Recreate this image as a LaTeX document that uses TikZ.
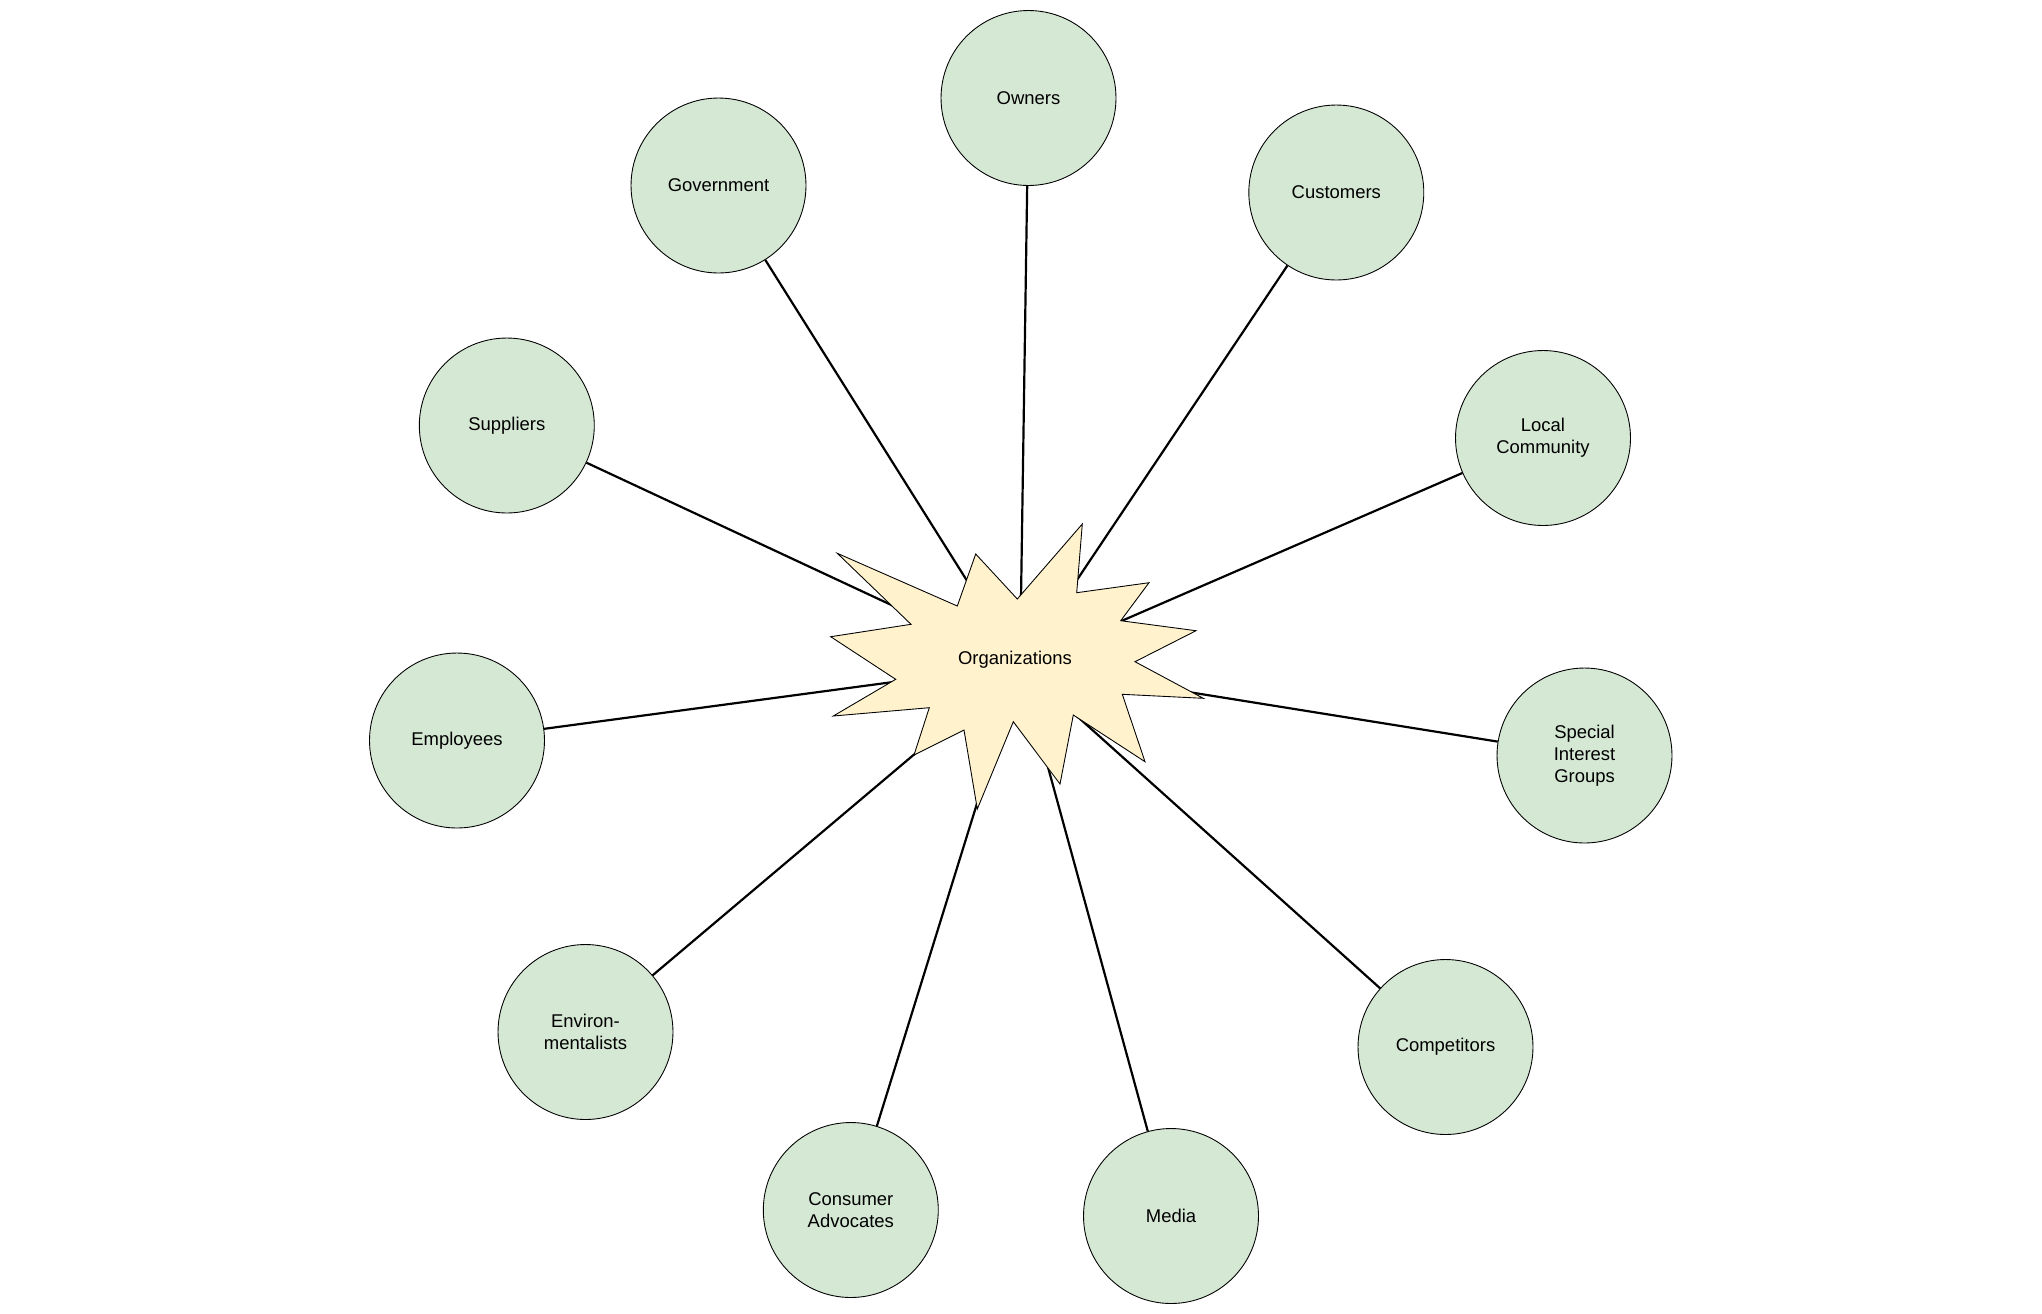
\documentclass[tikz,border=0pt]{standalone}
\usepackage{fontspec}
\setmainfont{Liberation Sans}
\definecolor{groupgreen}{HTML}{D5E8D4}
\definecolor{orgyellow}{HTML}{FFF2CC}

\begin{document}
\begin{tikzpicture}[x=0.02cm, y=-0.02cm,
		group/.style={circle, draw=black, line width=0.5pt, fill=groupgreen, minimum size=3.5cm, inner sep=0pt, align=center, font=\fontsize{10.5}{12.5}\selectfont},
		link/.style={line width=1.25pt}]
		%%%%% START %%%%%
		
		\useasboundingbox (0, 0) rectangle (2042, 1313);
		
		\node[group] (owners) at (1028.5, 98) {Owners};
		\node[group] (government) at (718.5, 185.5) {Government};
		\node[group] (customers) at (1336.3, 192.5) {Customers};
		\node[group] (suppliers) at (506.8, 425.5) {Suppliers};
		\node[group] (community) at (1543, 438) {Local\\Community};
		\node[group] (employees) at (457, 740.5) {Employees};
		\node[group] (interest) at (1584.5, 755.5) {Special\\Interest\\Groups};
		\node[group] (environ) at (585.5, 1032) {Environ-\\mentalists};
		\node[group] (competitors) at (1445.5, 1047) {Competitors};
		\node[group] (consumer) at (850.8, 1210) {Consumer\\Advocates};
		\node[group] (media) at (1171, 1216) {Media};
		
		\coordinate (hub) at (1020, 665);
		
		\draw[link] (owners) -- (hub);
		\draw[link] (government) -- (hub);
		\draw[link] (customers) -- (hub);
		\draw[link] (suppliers) -- (hub);
		\draw[link] (community) -- (hub);
		\draw[link] (employees) -- (hub);
		\draw[link] (interest) -- (hub);
		\draw[link] (environ) -- (hub);
		\draw[link] (competitors) -- (hub);
		\draw[link] (consumer) -- (hub);
		\draw[link] (media) -- (hub);
		
		\draw[fill=orgyellow, line width=0.5pt] (837.3, 553.3) -- (957.3, 606) -- (975.7, 554) -- (1017.3, 599)
			-- (1082.3, 524) -- (1076.7, 592.7) -- (1149, 582.7) -- (1120.7, 620.7)
			-- (1196, 630.7) -- (1135, 661.7) -- (1203.3, 698.3) -- (1122.3, 694.3)
			-- (1145, 761.7) -- (1073.3, 715) -- (1060, 784) -- (1013.3, 721.7)
			-- (977.3, 809) -- (964, 730) -- (914, 755) -- (929.3, 707.7)
			-- (833.3, 716) -- (895.7, 679.3) -- (830.7, 636.7) -- (911, 624.3) -- cycle;
		\node[font=\fontsize{10.5}{12.5}\selectfont] (org) at (1015, 660) {Organizations};
		
		%%%%% END %%%%%
	\end{tikzpicture}
\end{document}
